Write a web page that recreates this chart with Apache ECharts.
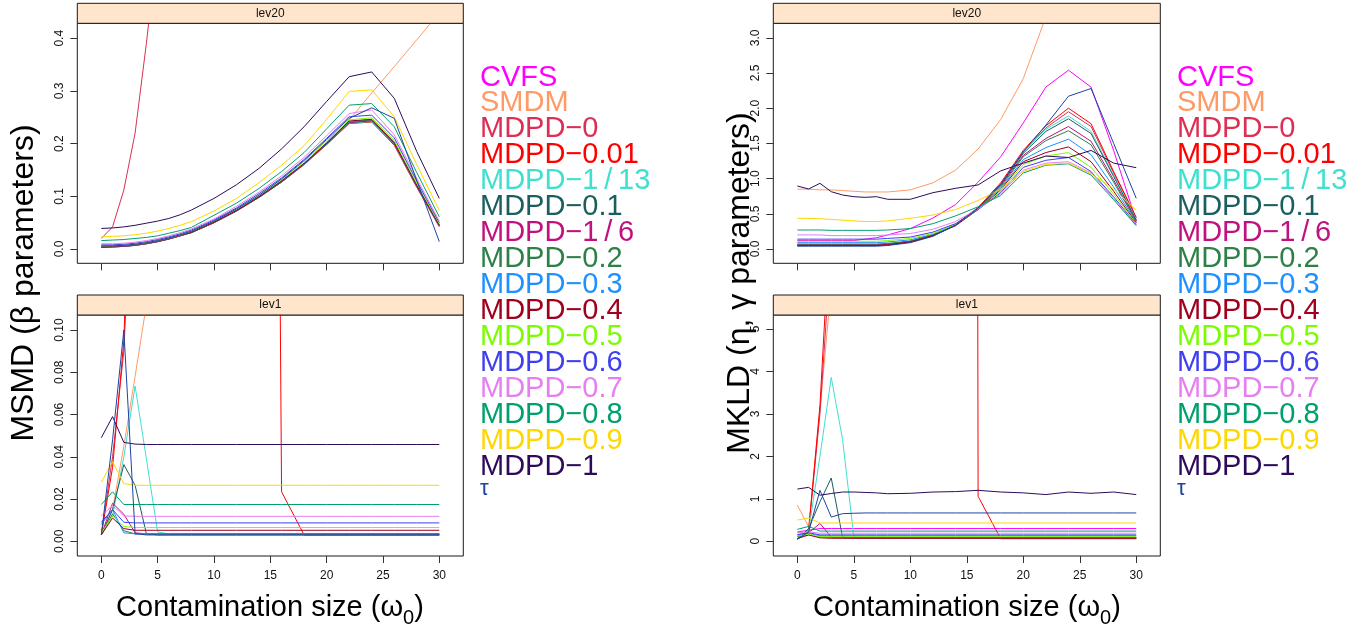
<!DOCTYPE html>
<html><head><meta charset="utf-8">
<script src="https://cdn.jsdelivr.net/npm/echarts@6/dist/echarts.min.js"></script>
<style>html,body{margin:0;padding:0;background:#fff}#c{width:1363px;height:630px}</style>
</head><body><div id="c"></div>
<script>
// ---------------- data ----------------
const xValues = [0,1,2,3,4,5,6,7,8,10,12,14,16,18,20,22,24,26,28,30];
const xTickValues = [0,5,10,15,20,25,30];
const seriesNames = ['CVFS','SMDM','MDPD\u22120','MDPD\u22120.01','MDPD\u22121\u2009/\u200913','MDPD\u22120.1','MDPD\u22121\u2009/\u20096','MDPD\u22120.2','MDPD\u22120.3','MDPD\u22120.4','MDPD\u22120.5','MDPD\u22120.6','MDPD\u22120.7','MDPD\u22120.8','MDPD\u22120.9','MDPD\u22121','\u03c4'];
const seriesColors = ['#FF00FF','#FF9A66','#DC2F55','#FF0000','#40E0D0','#1B5E5E','#C0117F','#2E8048','#1E90FF','#A0001E','#7CFC00','#3F3FF0','#E680F0','#00A06E','#FFD700','#2D0B5A','#1F44A0'];
const msmdTicksLev20 = [0,0.1,0.2,0.3,0.4];
const msmdTicksLev1 = [0,0.02,0.04,0.06,0.08,0.10];
const mkldTicksLev20 = [0,0.5,1,1.5,2,2.5,3];
const mkldTicksLev1 = [0,1,2,3,4,5];

// MSMD (beta parameters), lev20 — rows follow seriesNames
const msmdLev20 = [
  null,
  [0.004,0.005,0.006,0.008,0.011,0.015,0.020,0.026,0.032,0.051,0.073,0.099,0.128,0.161,0.200,0.245,0.296,0.346,0.397,0.448],
  [0.020,0.042,0.112,0.220,0.390,0.580,0.800,1.05,1.30,1.90,2.50,3.10,3.70,4.30,4.90,5.50,6.10,6.70,7.30,7.90],
  [0.003,0.004,0.005,0.007,0.010,0.014,0.019,0.025,0.031,0.050,0.072,0.098,0.127,0.160,0.198,0.238,0.241,0.197,0.117,0.042],
  [0.003,0.004,0.005,0.007,0.010,0.014,0.019,0.025,0.031,0.050,0.072,0.098,0.127,0.160,0.199,0.239,0.242,0.199,0.118,0.043],
  [0.003,0.004,0.005,0.007,0.010,0.014,0.019,0.025,0.031,0.050,0.072,0.098,0.127,0.161,0.199,0.240,0.243,0.200,0.119,0.044],
  [0.004,0.004,0.005,0.007,0.010,0.014,0.019,0.025,0.032,0.050,0.073,0.099,0.128,0.161,0.200,0.240,0.244,0.200,0.119,0.045],
  [0.004,0.005,0.006,0.008,0.011,0.015,0.020,0.026,0.032,0.051,0.073,0.099,0.128,0.162,0.200,0.241,0.245,0.201,0.120,0.045],
  [0.005,0.005,0.006,0.008,0.011,0.015,0.020,0.026,0.033,0.052,0.074,0.100,0.130,0.163,0.202,0.242,0.246,0.203,0.122,0.046],
  [0.004,0.005,0.006,0.008,0.011,0.015,0.020,0.026,0.032,0.051,0.073,0.099,0.129,0.162,0.201,0.243,0.246,0.202,0.121,0.045],
  [0.006,0.006,0.007,0.009,0.012,0.016,0.021,0.027,0.034,0.053,0.076,0.102,0.132,0.166,0.205,0.245,0.249,0.206,0.125,0.048],
  [0.008,0.008,0.009,0.011,0.014,0.018,0.023,0.029,0.036,0.055,0.078,0.105,0.135,0.170,0.210,0.251,0.254,0.211,0.129,0.050],
  [0.010,0.010,0.011,0.013,0.016,0.020,0.025,0.031,0.038,0.057,0.081,0.108,0.139,0.174,0.215,0.257,0.264,0.217,0.134,0.053],
  [0.016,0.017,0.018,0.020,0.022,0.025,0.030,0.035,0.041,0.064,0.087,0.115,0.147,0.183,0.228,0.273,0.276,0.232,0.145,0.061],
  [0.023,0.024,0.025,0.027,0.030,0.034,0.039,0.045,0.052,0.072,0.096,0.126,0.159,0.196,0.246,0.299,0.302,0.251,0.160,0.073],
  [0.039,0.040,0.042,0.045,0.049,0.053,0.058,0.065,0.074,0.096,0.122,0.153,0.190,0.232,0.280,0.327,0.336,0.286,0.185,0.096],
  [0.006,0.006,0.007,0.009,0.012,0.016,0.021,0.027,0.034,0.053,0.076,0.102,0.133,0.168,0.208,0.248,0.268,0.248,0.130,0.014]
];

// MSMD (beta parameters), lev1
const msmdLev1 = [
  null,
  [0.003,0.015,0.045,0.078,0.112,0.15,0.2,0.25,0.3,0.4,0.5,0.6,0.7,0.8,0.9,1.0,1.1,1.2,1.3,1.4],
  [0.003,0.040,0.090,0.200,0.35,0.5,0.6,0.7,0.8,0.9,1.0,1.1,1.2,1.3,1.4,1.5,1.6,1.7,1.8,1.9],
  [0.003,0.035,0.095,0.250,0.4,0.5,0.6,0.7,0.8,1.0,1.2,1.5,0.0234,0.003,0.003,0.003,0.003,0.003,0.003,0.003],
  [0.003,0.012,0.040,0.0735,0.039,0.0044,0.0035,0.0035,0.0035,0.0035,0.0035,0.0035,0.0035,0.0035,0.0035,0.0035,0.0035,0.0035,0.0035,0.0035],
  [0.003,0.015,0.0363,0.0265,0.0036,0.003,0.003,0.003,0.003,0.003,0.003,0.003,0.003,0.003,0.003,0.003,0.003,0.003,0.003,0.003],
  [0.003,0.018,0.0128,0.004,0.0035,0.0035,0.0035,0.0035,0.0035,0.0035,0.0035,0.0035,0.0035,0.0035,0.0035,0.0035,0.0035,0.0035,0.0035,0.0035],
  [0.003,0.013,0.005,0.0035,0.0035,0.0035,0.0035,0.0035,0.0035,0.0035,0.0035,0.0035,0.0035,0.0035,0.0035,0.0035,0.0035,0.0035,0.0035,0.0035],
  [0.008,0.015,0.004,0.0035,0.0035,0.0035,0.0035,0.0035,0.0035,0.0035,0.0035,0.0035,0.0035,0.0035,0.0035,0.0035,0.0035,0.0035,0.0035,0.0035],
  [0.003,0.011,0.006,0.0052,0.0052,0.0052,0.0052,0.0052,0.0052,0.0052,0.0052,0.0052,0.0052,0.0052,0.0052,0.0052,0.0052,0.0052,0.0052,0.0052],
  [0.004,0.012,0.007,0.0065,0.0065,0.0065,0.0065,0.0065,0.0065,0.0065,0.0065,0.0065,0.0065,0.0065,0.0065,0.0065,0.0065,0.0065,0.0065,0.0065],
  [0.009,0.015,0.009,0.0087,0.0087,0.0087,0.0087,0.0087,0.0087,0.0087,0.0087,0.0087,0.0087,0.0087,0.0087,0.0087,0.0087,0.0087,0.0087,0.0087],
  [0.012,0.017,0.012,0.0118,0.0118,0.0118,0.0118,0.0118,0.0118,0.0118,0.0118,0.0118,0.0118,0.0118,0.0118,0.0118,0.0118,0.0118,0.0118,0.0118],
  [0.0174,0.0234,0.0174,0.0174,0.0174,0.0174,0.0174,0.0174,0.0174,0.0174,0.0174,0.0174,0.0174,0.0174,0.0174,0.0174,0.0174,0.0174,0.0174,0.0174],
  [0.028,0.0376,0.0273,0.0265,0.0265,0.0265,0.0265,0.0265,0.0265,0.0265,0.0265,0.0265,0.0265,0.0265,0.0265,0.0265,0.0265,0.0265,0.0265,0.0265],
  [0.049,0.059,0.0468,0.046,0.0458,0.0458,0.0458,0.0458,0.0458,0.0458,0.0458,0.0458,0.0458,0.0458,0.0458,0.0458,0.0458,0.0458,0.0458,0.0458],
  [0.003,0.048,0.100,0.0036,0.003,0.003,0.003,0.003,0.003,0.003,0.003,0.003,0.003,0.003,0.003,0.003,0.003,0.003,0.003,0.003]
];

// MKLD (eta, gamma parameters), lev20
const mkldLev20 = [
  [0.12,0.12,0.12,0.12,0.12,0.12,0.14,0.16,0.20,0.29,0.44,0.63,0.95,1.31,1.79,2.30,2.54,2.30,1.40,0.40],
  [0.85,0.85,0.84,0.84,0.83,0.82,0.81,0.81,0.81,0.84,0.94,1.12,1.42,1.84,2.42,3.30,4.50,6.00,8.00,10.0],
  [0.05,0.05,0.05,0.05,0.05,0.05,0.05,0.05,0.06,0.10,0.19,0.34,0.58,0.92,1.38,1.72,1.95,1.74,1.08,0.44],
  [0.06,0.06,0.06,0.06,0.06,0.06,0.06,0.06,0.07,0.11,0.20,0.35,0.59,0.94,1.40,1.75,2.00,1.78,1.10,0.45],
  [0.05,0.05,0.05,0.05,0.05,0.05,0.05,0.05,0.06,0.10,0.19,0.34,0.58,0.92,1.38,1.70,1.89,1.67,1.05,0.42],
  [0.05,0.05,0.05,0.05,0.05,0.05,0.05,0.05,0.06,0.10,0.19,0.34,0.58,0.91,1.36,1.67,1.85,1.64,1.03,0.41],
  [0.06,0.06,0.06,0.06,0.06,0.06,0.06,0.06,0.07,0.11,0.19,0.34,0.57,0.90,1.33,1.57,1.74,1.53,0.98,0.40],
  [0.07,0.07,0.07,0.07,0.07,0.07,0.07,0.07,0.08,0.11,0.20,0.34,0.57,0.88,1.31,1.54,1.68,1.48,0.95,0.39],
  [0.09,0.09,0.09,0.09,0.09,0.09,0.09,0.09,0.10,0.13,0.21,0.35,0.57,0.86,1.27,1.44,1.56,1.34,0.88,0.38],
  [0.05,0.05,0.05,0.05,0.05,0.05,0.05,0.05,0.06,0.10,0.19,0.33,0.56,0.84,1.24,1.37,1.45,1.24,0.82,0.37],
  [0.11,0.11,0.11,0.11,0.11,0.11,0.11,0.11,0.12,0.15,0.22,0.35,0.56,0.82,1.20,1.32,1.37,1.16,0.78,0.36],
  [0.14,0.14,0.14,0.14,0.14,0.14,0.14,0.14,0.15,0.17,0.24,0.36,0.56,0.80,1.16,1.26,1.30,1.10,0.74,0.35],
  [0.20,0.20,0.20,0.19,0.19,0.19,0.19,0.19,0.20,0.22,0.28,0.39,0.57,0.78,1.12,1.22,1.24,1.08,0.72,0.34],
  [0.27,0.27,0.27,0.265,0.265,0.265,0.265,0.265,0.27,0.29,0.36,0.47,0.60,0.76,1.08,1.19,1.21,1.05,0.70,0.33],
  [0.436,0.435,0.43,0.42,0.41,0.40,0.39,0.39,0.40,0.436,0.483,0.56,0.69,0.85,1.10,1.20,1.22,1.07,0.85,0.55],
  [0.895,0.852,0.933,0.814,0.767,0.743,0.734,0.743,0.706,0.706,0.80,0.862,0.91,1.11,1.22,1.32,1.30,1.40,1.22,1.155],
  [0.04,0.04,0.04,0.04,0.04,0.04,0.04,0.04,0.05,0.09,0.18,0.34,0.58,0.92,1.38,1.76,2.17,2.28,1.50,0.72]
];

// MKLD (eta, gamma parameters), lev1
const mkldLev1 = [
  [0.22,0.26,0.30,0.30,0.30,0.30,0.30,0.30,0.30,0.30,0.30,0.30,0.30,0.30,0.30,0.30,0.30,0.30,0.30,0.30],
  [0.85,0.34,3.1,6.0,9.0,12,15,18,21,27,33,39,45,51,57,63,69,75,81,87],
  [0.06,0.25,3.0,7.0,11,15,19,23,27,35,43,51,59,67,75,83,91,99,107,115],
  [0.06,0.25,3.2,8.0,12,16,20,24,28,36,44,300,1.06,0.06,0.06,0.06,0.06,0.06,0.06,0.06],
  [0.05,0.25,2.0,3.86,2.4,0.10,0.07,0.07,0.07,0.07,0.07,0.07,0.07,0.07,0.07,0.07,0.07,0.07,0.07,0.07],
  [0.05,0.30,0.93,1.49,0.10,0.08,0.08,0.08,0.08,0.08,0.08,0.08,0.08,0.08,0.08,0.08,0.08,0.08,0.08,0.08],
  [0.12,0.20,0.42,0.10,0.08,0.08,0.08,0.08,0.08,0.08,0.08,0.08,0.08,0.08,0.08,0.08,0.08,0.08,0.08,0.08],
  [0.10,0.15,0.10,0.09,0.09,0.09,0.09,0.09,0.09,0.09,0.09,0.09,0.09,0.09,0.09,0.09,0.09,0.09,0.09,0.09],
  [0.15,0.18,0.13,0.13,0.13,0.13,0.13,0.13,0.13,0.13,0.13,0.13,0.13,0.13,0.13,0.13,0.13,0.13,0.13,0.13],
  [0.06,0.15,0.08,0.07,0.07,0.07,0.07,0.07,0.07,0.07,0.07,0.07,0.07,0.07,0.07,0.07,0.07,0.07,0.07,0.07],
  [0.12,0.17,0.11,0.11,0.11,0.11,0.11,0.11,0.11,0.11,0.11,0.11,0.11,0.11,0.11,0.11,0.11,0.11,0.11,0.11],
  [0.16,0.20,0.15,0.15,0.15,0.15,0.15,0.15,0.15,0.15,0.15,0.15,0.15,0.15,0.15,0.15,0.15,0.15,0.15,0.15],
  [0.20,0.22,0.19,0.19,0.19,0.19,0.19,0.19,0.19,0.19,0.19,0.19,0.19,0.19,0.19,0.19,0.19,0.19,0.19,0.19],
  [0.28,0.35,0.24,0.24,0.24,0.24,0.24,0.24,0.24,0.24,0.24,0.24,0.24,0.24,0.24,0.24,0.24,0.24,0.24,0.24],
  [0.50,0.55,0.43,0.43,0.43,0.43,0.43,0.43,0.43,0.43,0.43,0.43,0.43,0.43,0.43,0.43,0.43,0.43,0.43,0.43],
  [1.23,1.27,1.085,1.125,1.16,1.16,1.15,1.14,1.12,1.13,1.16,1.17,1.20,1.16,1.14,1.10,1.16,1.13,1.16,1.10],
  [0.05,0.22,1.2,0.57,0.65,0.66,0.667,0.667,0.667,0.667,0.667,0.667,0.667,0.667,0.667,0.667,0.667,0.667,0.667,0.667]
];

// ---------------- chart ----------------
const FONT = '"Liberation Sans", Arial, Helvetica, sans-serif';
const panels = [
  {box:[77.3, 23.3, 386, 240], yr:[-0.0271, 0.4283], ticks: msmdTicksLev20, dec:1, xlab:false, rows: msmdLev20, strip:'lev20'},
  {box:[77.3, 315, 386, 241], yr:[-0.00697, 0.1071], ticks: msmdTicksLev1, dec:2, xlab:true, rows: msmdLev1, strip:'lev1'},
  {box:[773.3, 23.3, 387, 240], yr:[-0.203, 3.206], ticks: mkldTicksLev20, dec:1, xlab:false, rows: mkldLev20, strip:'lev20'},
  {box:[773.3, 315, 387, 241], yr:[-0.347, 5.33], ticks: mkldTicksLev1, dec:0, xlab:true, rows: mkldLev1, strip:'lev1'}
];

const grids = [], xAxes = [], yAxes = [], series = [], graphics = [];
panels.forEach((p, k) => {
  const [l, t, w, h] = p.box;
  grids.push({left: l, top: t, width: w, height: h, show: true, borderColor: '#1a1a1a', borderWidth: 1, backgroundColor: 'rgba(0,0,0,0)', containLabel: false});
  xAxes.push({type: 'value', gridIndex: k, min: -2.13, max: 32.13, position: 'bottom',
    axisLine: {show: false, onZero: false}, splitLine: {show: false},
    axisTick: {show: true, inside: false, length: 7, customValues: xTickValues, lineStyle: {color: '#333', width: 1}},
    axisLabel: {show: p.xlab, customValues: xTickValues, margin: 14, fontSize: 12, color: '#111', fontFamily: FONT}
  });
  yAxes.push({type: 'value', gridIndex: k, min: p.yr[0], max: p.yr[1], position: 'left',
    axisLine: {show: false, onZero: false}, splitLine: {show: false},
    axisTick: {show: true, length: 7, customValues: p.ticks, lineStyle: {color: '#333', width: 1}},
    axisLabel: {show: true, customValues: p.ticks, rotate: 90, margin: 12, fontSize: 12, color: '#111', fontFamily: FONT,
      formatter: v => Number(v).toFixed(p.dec)}
  });
  p.rows.forEach((row, i) => {
    series.push({
      type: 'line', name: seriesNames[i], xAxisIndex: k, yAxisIndex: k,
      data: row ? xValues.map((x, j) => [x, row[j]]) : [],
      showSymbol: false, symbol: 'none', clip: true, animation: false, silent: true,
      lineStyle: {width: 1, color: seriesColors[i]}, itemStyle: {color: seriesColors[i]},
      z: 2 + i * 0.01
    });
  });
  // strip
  graphics.push({type: 'rect', shape: {x: l, y: t - 20, width: w, height: 20},
    style: {fill: '#FFE5CC', stroke: '#1a1a1a', lineWidth: 1}, z: 10});
  graphics.push({type: 'text', x: l + w / 2, y: t - 10,
    style: {text: p.strip, font: '12px ' + FONT, fill: '#111', textAlign: 'center', textVerticalAlign: 'middle', align: 'center', verticalAlign: 'middle'}, z: 11});
});

// axis titles
const yTitleFont = '32px ' + FONT;
const xTitleFont = '29px ' + FONT;
[[24, 'MSMD (\u03b2 parameters)'], [740, 'MKLD (\u03b7, \u03b3 parameters)']].forEach(([x, txt]) => {
  graphics.push({type: 'text', x: x, y: 283, rotation: Math.PI / 2,
    style: {text: txt, font: yTitleFont, fill: '#000', textAlign: 'center', textVerticalAlign: 'middle', align: 'center', verticalAlign: 'middle'}});
});
[270, 967].forEach(cx => {
  graphics.push({type: 'text', x: cx, y: 608,
    style: {text: 'Contamination size (\u03c9{s|0})', font: xTitleFont, fill: '#000', textAlign: 'center', textVerticalAlign: 'middle', align: 'center', verticalAlign: 'middle',
      lineHeight: 40,
      rich: {s: {fontSize: 20, fontFamily: FONT, fill: '#000', verticalAlign: 'bottom', lineHeight: 22}}}});
});

const legendData = seriesNames.map((n, i) => ({name: n, textStyle: {color: seriesColors[i], fontSize: i === 16 ? 22 : 29}}));
const mkLegend = left => ({
  left: left, top: 63, orient: 'vertical', icon: 'none', itemWidth: 0, itemHeight: 4, itemGap: -3.05,
  selectedMode: false, padding: 0,
  textStyle: {fontFamily: FONT, fontSize: 29},
  data: legendData
});

const chart = echarts.init(document.getElementById('c'), null, {renderer: 'canvas'});
chart.setOption({
  animation: false,
  backgroundColor: '#fff',
  grid: grids, xAxis: xAxes, yAxis: yAxes, series: series,
  legend: [mkLegend(475), mkLegend(1172)],
  graphic: graphics
});
</script></body></html>
